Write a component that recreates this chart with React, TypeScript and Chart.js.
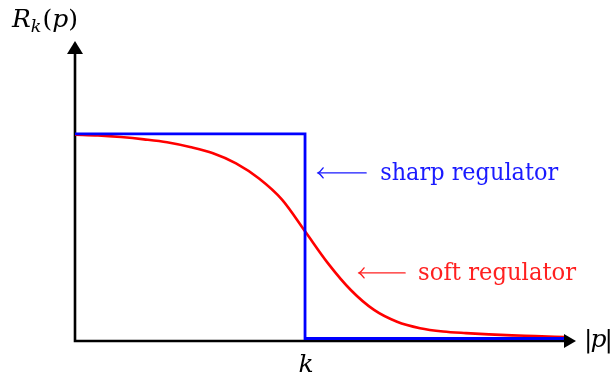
import React, { useEffect, useRef } from 'react';
import { Chart, registerables } from 'chart.js';

Chart.register(...registerables);

// Sharp (step) regulator, in units where the scale k = 1
const sharpX = [0, 1, 1, 2.13];
const sharpY = [1, 1, 0.012, 0.012];

// Soft regulator
const softX = [0, 0.1, 0.2, 0.3, 0.4, 0.5, 0.6, 0.7, 0.8, 0.9, 1.0, 1.1, 1.2, 1.3, 1.4, 1.5, 1.6, 1.7, 1.8, 1.9, 2.0, 2.13];
const softY = [0.997, 0.993, 0.985, 0.974, 0.96, 0.937, 0.907, 0.858, 0.785, 0.683, 0.53, 0.375, 0.245, 0.15, 0.093, 0.062, 0.046, 0.038, 0.032, 0.027, 0.024, 0.019];

// Axis extents (data units)
const X_MAX = 2.178;
const Y_MAX = 1.449;
const K_TICK = 1;

// Labels
const sharpLabel = 'sharp regulator';
const softLabel = 'soft regulator';
const sharpArrowAt = [1.057, 0.812];
const softArrowAt = [1.235, 0.329];

const SERIF = '"DejaVu Serif"';

function drawHarpoonArrow(ctx: CanvasRenderingContext2D, tipX: number, y: number, len: number, color: string) {
  ctx.save();
  ctx.strokeStyle = color;
  ctx.lineWidth = 1.4;
  ctx.lineCap = 'round';
  ctx.beginPath();
  ctx.moveTo(tipX, y);
  ctx.lineTo(tipX + len, y);
  ctx.stroke();
  ctx.beginPath();
  ctx.moveTo(tipX + 5, y - 5);
  ctx.quadraticCurveTo(tipX + 2, y - 1, tipX, y);
  ctx.quadraticCurveTo(tipX + 2, y + 1, tipX + 5, y + 5);
  ctx.stroke();
  ctx.restore();
}

// draw text at a given size, squeezed horizontally to the wanted width
function drawFitted(ctx: CanvasRenderingContext2D, text: string, x: number, y: number, size: number, width: number) {
  ctx.save();
  ctx.font = `${size}px ${SERIF}`;
  const w = ctx.measureText(text).width;
  const k = width / w;
  ctx.translate(x, y);
  ctx.scale(k, 1);
  ctx.fillText(text, 0, 0);
  ctx.restore();
}

const decorPlugin = {
  id: 'decor',
  beforeDatasetsDraw(chart: any) {
    const { ctx, scales } = chart;
    const xs = scales.x, ys = scales.y;
    const x0 = xs.getPixelForValue(0);
    const y0 = ys.getPixelForValue(0);
    const xe = xs.getPixelForValue(X_MAX);
    const ye = ys.getPixelForValue(Y_MAX);
    ctx.save();
    ctx.strokeStyle = '#000';
    ctx.lineWidth = 2.6;
    ctx.lineCap = 'butt';
    ctx.beginPath();
    ctx.moveTo(x0 - 1.3, y0);
    ctx.lineTo(xe - 8, y0);
    ctx.moveTo(x0, y0 + 1.3);
    ctx.lineTo(x0, ye + 8);
    ctx.stroke();
    ctx.restore();
  },
  afterDatasetsDraw(chart: any) {
    const { ctx, scales } = chart;
    const xs = scales.x, ys = scales.y;
    const x0 = xs.getPixelForValue(0);
    const y0 = ys.getPixelForValue(0);
    const xe = xs.getPixelForValue(X_MAX);
    const ye = ys.getPixelForValue(Y_MAX);
    ctx.save();
    ctx.fillStyle = '#000';
    // x arrow head
    ctx.beginPath();
    ctx.moveTo(xe, y0);
    ctx.lineTo(xe - 12, y0 - 7);
    ctx.lineTo(xe - 12, y0 + 7);
    ctx.closePath();
    ctx.fill();
    // y arrow head
    ctx.beginPath();
    ctx.moveTo(x0, ye);
    ctx.lineTo(x0 - 8, ye + 13);
    ctx.lineTo(x0 + 8, ye + 13);
    ctx.closePath();
    ctx.fill();

    ctx.textBaseline = 'alphabetic';
    ctx.textAlign = 'left';
    const MS = 25;
    // y label R_k(p)
    let cx = 12;
    const by = 27;
    ctx.font = `italic ${MS}px ${SERIF}`;
    ctx.fillText('R', cx, by); cx += ctx.measureText('R').width;
    ctx.font = `italic ${MS * 0.7}px ${SERIF}`;
    ctx.fillText('k', cx, by + 5); cx += ctx.measureText('k').width + 1;
    ctx.font = `${MS}px ${SERIF}`;
    ctx.fillText('(', cx, by); cx += ctx.measureText('(').width;
    ctx.font = `italic ${MS}px ${SERIF}`;
    ctx.fillText('p', cx, by); cx += ctx.measureText('p').width;
    ctx.font = `${MS}px ${SERIF}`;
    ctx.fillText(')', cx, by);

    // x label |p|
    cx = xe + 8;
    const bx = y0 + 6;
    ctx.font = `${MS}px ${SERIF}`;
    ctx.fillText('|', cx, bx); cx += ctx.measureText('|').width - 2;
    ctx.font = `italic ${MS}px ${SERIF}`;
    ctx.fillText('p', cx, bx); cx += ctx.measureText('p').width - 2;
    ctx.font = `${MS}px ${SERIF}`;
    ctx.fillText('|', cx, bx);

    // tick label k
    ctx.font = `italic ${MS}px ${SERIF}`;
    ctx.textAlign = 'center';
    ctx.fillText('k', xs.getPixelForValue(K_TICK) + 1, y0 + 31);

    // annotations
    ctx.textAlign = 'left';
    const sx = xs.getPixelForValue(sharpArrowAt[0]);
    const sy = ys.getPixelForValue(sharpArrowAt[1]);
    drawHarpoonArrow(ctx, sx, sy, 48, '#1a1aff');
    ctx.fillStyle = '#1a1aff';
    drawFitted(ctx, sharpLabel, sx + 62, sy + 7, 25, 178);

    const tx = xs.getPixelForValue(softArrowAt[0]);
    const ty = ys.getPixelForValue(softArrowAt[1]);
    drawHarpoonArrow(ctx, tx, ty, 46, '#ff2020');
    ctx.fillStyle = '#ff2020';
    drawFitted(ctx, softLabel, tx + 59, ty + 7, 25, 158);
    ctx.restore();
  },
};

export default function App() {
  const ref = useRef<HTMLCanvasElement>(null);
  useEffect(() => {
    if (!ref.current) return;
    const chart = new Chart(ref.current, {
      type: 'line',
      data: {
        datasets: [
          {
            label: 'sharp regulator',
            data: sharpX.map((x, i) => ({ x, y: sharpY[i] })),
            borderColor: '#0000ff',
            borderWidth: 2.8,
            pointRadius: 0,
            tension: 0,
            fill: false,
          },
          {
            label: 'soft regulator',
            data: softX.map((x, i) => ({ x, y: softY[i] })),
            borderColor: '#ff0000',
            borderWidth: 2.6,
            pointRadius: 0,
            cubicInterpolationMode: 'monotone',
            fill: false,
          },
        ],
      },
      options: {
        animation: false,
        responsive: false,
        devicePixelRatio: 1,
        layout: { padding: { left: 75, right: 37, top: 41, bottom: 42 } },
        plugins: { legend: { display: false }, tooltip: { enabled: false } },
        scales: {
          x: { type: 'linear', min: 0, max: X_MAX, display: false },
          y: { type: 'linear', min: 0, max: Y_MAX, display: false },
        },
      },
      plugins: [decorPlugin],
    } as any);
    return () => chart.destroy();
  }, []);
  return (
    <div style={{ position: 'absolute', left: 0, top: 0, width: 613, height: 383, background: '#fff' }}>
      <canvas ref={ref} width={613} height={383} />
    </div>
  );
}
